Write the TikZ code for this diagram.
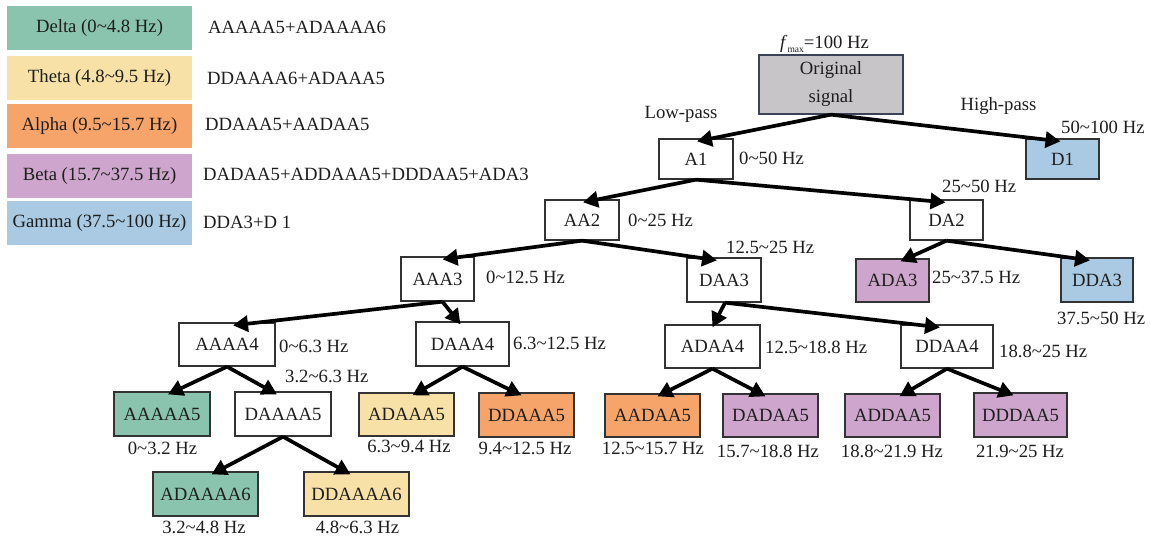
\documentclass[tikz,border=0pt]{standalone}
\usepackage{fontspec}
\setmainfont{Liberation Serif}
\usetikzlibrary{arrows.meta}
\definecolor{cDelta}{HTML}{8AC4AE}
\definecolor{cTheta}{HTML}{F7E1A6}
\definecolor{cAlpha}{HTML}{F7A46A}
\definecolor{cBeta}{HTML}{CEA5CC}
\definecolor{cGamma}{HTML}{A9CAE2}
\definecolor{cGray}{HTML}{C7C5C7}
\definecolor{ink}{HTML}{1E1E1E}
\definecolor{edge}{HTML}{333333}
\definecolor{origedge}{HTML}{3C4258}
\newcommand{\tld}{\textasciitilde}
\newcommand{\bx}[7]{\node[bx, fill=#6, minimum width={#4-#2}, minimum height={#5-#3}] (#1) at ({(#2+#4)/2},{(#3+#5)/2}) {#7};}
\begin{document}
\begin{tikzpicture}[x=1pt,y=-1pt, font=\fontsize{18.7}{21}\selectfont, text=ink,
  bx/.style={draw=edge, line width=1.3pt, inner sep=0pt},
  lg/.style={inner sep=0pt, minimum width=185, minimum height=44},
  lbl/.style={inner sep=0pt},
  arr/.style={line width=3.7pt, draw=black, -{Triangle[length=15pt,width=16pt]}}]
\useasboundingbox (0,0) rectangle (1150,538);
% legend
\node[lg, fill=cDelta] (lDelta) at (99.5,28) {Delta (0\tld4.8 Hz)};
\node[lg, fill=cTheta] (lTheta) at (99.5,78) {Theta (4.8\tld9.5 Hz)};
\node[lg, fill=cAlpha] (lAlpha) at (99.5,126) {Alpha (9.5\tld15.7 Hz)};
\node[lg, fill=cBeta] (lBeta) at (99.5,176) {Beta (15.7\tld37.5 Hz)};
\node[lg, fill=cGamma] (lGamma) at (99.5,223) {Gamma (37.5\tld100 Hz)};
\node[lbl, anchor=west] (tDelta) at (208,27) {AAAAA5+ADAAAA6};
\node[lbl, anchor=west] (tTheta) at (207,78) {DDAAAA6+ADAAA5};
\node[lbl, anchor=west] (tAlpha) at (205,124) {DDAAA5+AADAA5};
\node[lbl, anchor=west] (tBeta) at (203,174) {DADAA5+ADDAAA5+DDDAA5+ADA3};
\node[lbl, anchor=west] (tGamma) at (203,222) {DDA3+D 1};
% tree boxes
\node[bx, fill=cGray, draw=origedge, minimum width=144, minimum height=59, align=center,
  font=\fontsize{18.7}{28}\selectfont] (orig) at (831,84.5) {Original\\signal};
\bx{a1}{659}{139}{733}{179}{white}{A1}
\bx{d1}{1026}{139}{1099}{179}{cGamma}{D1}
\bx{aa2}{545}{200}{619}{240}{white}{AA2}
\bx{da2}{910}{200}{983}{240}{white}{DA2}
\bx{aaa3}{401}{257}{474}{301}{white}{AAA3}
\bx{daa3}{687}{258}{761}{302}{white}{DAA3}
\bx{ada3}{856}{259}{929}{302}{cBeta}{ADA3}
\bx{dda3}{1061}{258}{1133}{302}{cGamma}{DDA3}
\bx{aaaa4}{179}{323}{275}{366}{white}{AAAA4}
\bx{daaa4}{416}{322}{509}{366}{white}{DAAA4}
\bx{adaa4}{665}{325}{760}{368}{white}{ADAA4}
\bx{ddaa4}{901}{325}{993}{368}{white}{DDAA4}
\bx{aaaaa5}{114}{392}{210}{436}{cDelta}{AAAAA5}
\bx{daaaa5}{235}{392}{331}{436}{white}{DAAAA5}
\bx{adaaa5}{359}{393}{454}{436}{cTheta}{ADAAA5}
\bx{ddaaa5}{479}{393}{574}{437}{cAlpha}{DDAAA5}
\bx{aadaa5}{605}{394}{700}{437}{cAlpha}{AADAA5}
\bx{dadaa5}{723}{394}{818}{437}{cBeta}{DADAA5}
\bx{addaa5}{845}{394}{940}{437}{cBeta}{ADDAA5}
\bx{dddaa5}{974}{393}{1067}{437}{cBeta}{DDDAA5}
\bx{adaaaa6}{153}{472}{258}{516}{cDelta}{ADAAAA6}
\bx{ddaaaa6}{304}{472}{409}{516}{cTheta}{DDAAAA6}
% labels
\node[lbl, anchor=base west] (fmax) at (780,48) {\textit{f}\raisebox{-0.55ex}{\fontsize{9.5}{9.5}\selectfont max}=100 Hz};
\node[lbl] (lowpass) at (681,114) {Low-pass};
\node[lbl] (highpass) at (998.5,106) {High-pass};
\node[lbl, anchor=west] (f1) at (739,158) {0\tld50 Hz};
\node[lbl, anchor=west] (f2) at (1061,127) {50\tld100 Hz};
\node[lbl, anchor=west] (f3) at (628,220) {0\tld25 Hz};
\node[lbl, anchor=west] (f4) at (942,186) {25\tld50 Hz};
\node[lbl, anchor=west] (f5) at (486,277) {0\tld12.5 Hz};
\node[lbl, anchor=west] (f6) at (726,247) {12.5\tld25 Hz};
\node[lbl, anchor=west] (f7) at (932,277) {25\tld37.5 Hz};
\node[lbl, anchor=west] (f8) at (1057,318) {37.5\tld50 Hz};
\node[lbl, anchor=west] (f9) at (279,346) {0\tld6.3 Hz};
\node[lbl, anchor=west] (f10) at (513,343) {6.3\tld12.5 Hz};
\node[lbl, anchor=west] (f11) at (765,347) {12.5\tld18.8 Hz};
\node[lbl, anchor=west] (f12) at (999,351) {18.8\tld25 Hz};
\node[lbl, anchor=west] (f13) at (285,376) {3.2\tld6.3 Hz};
\node[lbl] (f14) at (162.5,448) {0\tld3.2 Hz};
\node[lbl] (f15) at (409,446) {6.3\tld9.4 Hz};
\node[lbl] (f16) at (525,448) {9.4\tld12.5 Hz};
\node[lbl] (f17) at (653,448) {12.5\tld15.7 Hz};
\node[lbl] (f18) at (768,451) {15.7\tld18.8 Hz};
\node[lbl] (f19) at (892,451) {18.8\tld21.9 Hz};
\node[lbl] (f20) at (1020,451) {21.9\tld25 Hz};
\node[lbl] (f21) at (204,527) {3.2\tld4.8 Hz};
\node[lbl] (f22) at (357.5,527) {4.8\tld6.3 Hz};
% connectors
\draw[arr] (orig.south) -- ([xshift=1pt,yshift=-3pt]a1.north);
\draw[arr] (orig.south) -- ([xshift=-2pt,yshift=-3pt]d1.north);
\draw[arr] (a1.south) -- ([xshift=1pt,yshift=-3pt]aa2.north);
\draw[arr] (a1.south) -- ([xshift=-1pt,yshift=-3pt]da2.north);
\draw[arr] (aa2.south) -- ([xshift=5pt,yshift=-3pt]aaa3.north);
\draw[arr] (aa2.south) -- ([xshift=-7pt,yshift=-3pt]daa3.north);
\draw[arr] (da2.south) -- ([xshift=8pt,yshift=-3pt]ada3.north);
\draw[arr] (da2.south) -- ([xshift=-7pt,yshift=-3pt]dda3.north);
\draw[arr] ([xshift=5pt]aaa3.south) -- ([xshift=6pt,yshift=-3pt]aaaa4.north);
\draw[arr] ([xshift=5pt]aaa3.south) -- ([xshift=-2pt,yshift=-3pt]daaa4.north);
\draw[arr] ([xshift=1pt]daa3.south) -- ([yshift=-3pt]adaa4.north);
\draw[arr] ([xshift=1pt]daa3.south) -- ([xshift=-7pt,yshift=-3pt]ddaa4.north);
\draw[arr] (aaaa4.south) -- ([xshift=6pt,yshift=-3pt]aaaaa5.north);
\draw[arr] (aaaa4.south) -- ([xshift=-6pt,yshift=-3pt]daaaa5.north);
\draw[arr] (daaa4.south) -- ([xshift=6pt,yshift=-3pt]adaaa5.north);
\draw[arr] (daaa4.south) -- ([xshift=-5pt,yshift=-3pt]ddaaa5.north);
\draw[arr] (daaaa5.south) -- ([xshift=6pt,yshift=-3pt]adaaaa6.north);
\draw[arr] (daaaa5.south) -- ([xshift=-6pt,yshift=-3pt]ddaaaa6.north);
\draw[arr] (adaa4.south) -- ([xshift=5pt,yshift=-3pt]aadaa5.north);
\draw[arr] (adaa4.south) -- ([xshift=-5pt,yshift=-3pt]dadaa5.north);
\draw[arr] (ddaa4.south) -- ([xshift=7pt,yshift=-3pt]addaa5.north);
\draw[arr] (ddaa4.south) -- ([xshift=-7pt,yshift=-3pt]dddaa5.north);
\end{tikzpicture}
\end{document}
